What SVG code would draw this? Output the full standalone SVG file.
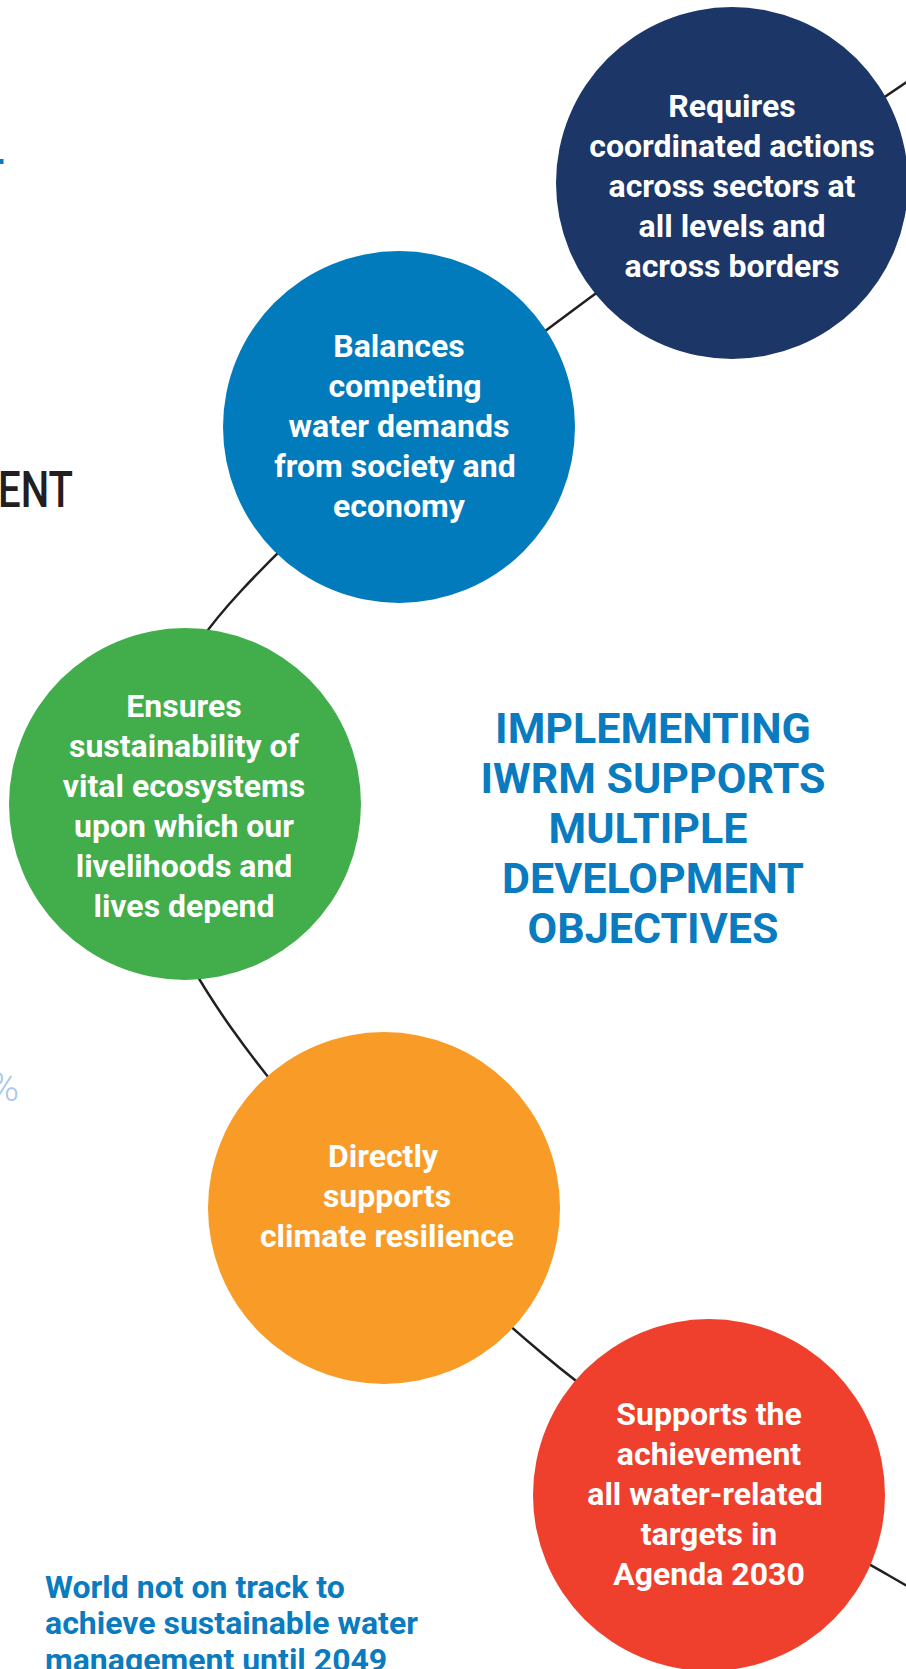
<svg xmlns="http://www.w3.org/2000/svg" width="906" height="1669" viewBox="0 0 906 1669">
<style>
.node text{font-family:Roboto,"Liberation Sans",sans-serif;font-weight:700;font-size:32px;fill:#ffffff;text-anchor:middle}
.title{font-family:Roboto,"Liberation Sans",sans-serif;font-weight:700;font-size:43px;fill:#0a7bbf;text-anchor:middle}
.note{font-family:Roboto,"Liberation Sans",sans-serif;font-weight:700;font-size:32px;fill:#0a7bbf}
.conn{fill:none;stroke:#231f20;stroke-width:2.5}
</style>
<rect width="906" height="1669" fill="#ffffff"/>
<g id="connectors">
<path class="conn" d="M930,66 C810.7,148.4 687.3,225.1 571,311.7 C455.5,397.7 339,485.6 241,591 C105,737 116,866 232,1029 C319,1151 429.4,1258.2 544,1355 C648,1442.7 770,1507.5 888,1575 L940,1605"/>
</g>
<g id="side-fragments">
<rect x="0" y="159" width="3.5" height="5" fill="#0a7bbf"/>
<text x="-2" y="507" textLength="75" lengthAdjust="spacingAndGlyphs" font-family="Roboto,'Liberation Sans',sans-serif" font-weight="500" font-size="50" fill="#231f20">ENT</text>
<text x="19" y="1101" text-anchor="end" font-family="Roboto,'Liberation Sans',sans-serif" font-weight="300" font-size="40" fill="#a9c7ea">%</text>
</g>
<g id="node-coordinated" class="node">
<circle cx="732" cy="183" r="176" fill="#1b3667"/>
<text x="732" y="117">Requires</text>
<text x="732" y="157">coordinated actions</text>
<text x="732" y="197">across sectors at</text>
<text x="732" y="237">all levels and</text>
<text x="732" y="277">across borders</text>
</g>
<g id="node-balances" class="node">
<circle cx="399" cy="427" r="176" fill="#027bbd"/>
<text x="399" y="357">Balances</text>
<text x="405" y="397">competing</text>
<text x="399" y="437">water demands</text>
<text x="395" y="477">from society and</text>
<text x="399" y="517">economy</text>
</g>
<g id="node-ecosystems" class="node">
<circle cx="185" cy="804" r="176" fill="#41ae4b"/>
<text x="184" y="717">Ensures</text>
<text x="184" y="757">sustainability of</text>
<text x="184" y="797">vital ecosystems</text>
<text x="184" y="837">upon which our</text>
<text x="184" y="877">livelihoods and</text>
<text x="184" y="917">lives depend</text>
</g>
<g id="node-climate" class="node">
<circle cx="384" cy="1208" r="176" fill="#f89c27"/>
<text x="383" y="1167">Directly</text>
<text x="387" y="1207">supports</text>
<text x="387" y="1247">climate resilience</text>
</g>
<g id="node-agenda" class="node">
<circle cx="709" cy="1495" r="176" fill="#ee402d"/>
<text x="709" y="1425">Supports the</text>
<text x="709" y="1465">achievement</text>
<text x="705" y="1505">all water-related</text>
<text x="709" y="1545">targets in</text>
<text x="709" y="1585">Agenda 2030</text>
</g>
<g id="title">
<text class="title" x="653" y="743">IMPLEMENTING</text>
<text class="title" x="653" y="793">IWRM SUPPORTS</text>
<text class="title" x="648" y="843">MULTIPLE</text>
<text class="title" x="653" y="893">DEVELOPMENT</text>
<text class="title" x="653" y="943">OBJECTIVES</text>
</g>
<g id="note">
<text class="note" x="45" y="1598">World not on track to</text>
<text class="note" x="45" y="1634">achieve sustainable water</text>
<text class="note" x="45" y="1671">management until 2049</text>
</g>
</svg>
